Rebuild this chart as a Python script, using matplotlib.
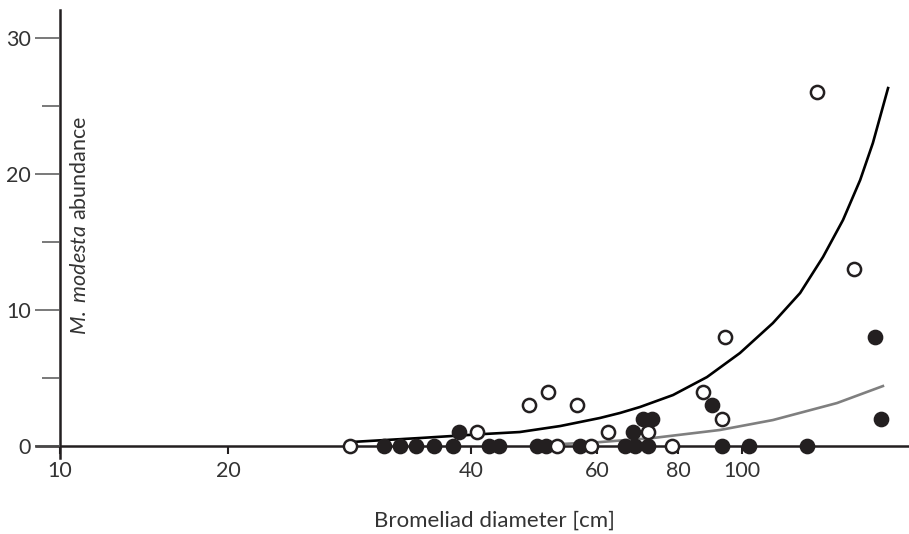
"""M. modesta abundance vs bromeliad diameter, scatter with fitted curves."""

import matplotlib
import numpy as np

matplotlib.use("Agg")
import matplotlib.pyplot as plt

# open circles
OPEN_DIAM = [28.3, 52.8, 58.9, 78.3, 40.8, 48.2, 51.2, 56.2, 62.4, 71.9,
             87.3, 94.2, 93.4, 129.4, 146.9]
OPEN_ABUND = [0, 0, 0, 0, 1, 3, 4, 3, 1, 1,
              4, 8, 2, 26, 13]

# filled circles
FILLED_DIAM = [31.2, 32.7, 34.2, 36.0, 38.0, 42.4, 43.8, 49.5, 50.9, 56.8,
               66.3, 68.7, 71.9, 93.2, 102.4, 125.0,
               38.7, 68.2, 70.6, 72.9, 90.1, 157.9, 161.2]
FILLED_ABUND = [0, 0, 0, 0, 0, 0, 0, 0, 0, 0,
                0, 0, 0, 0, 0, 0,
                1, 1, 2, 2, 3, 8, 2]

# fitted curves
BLACK_DIAM = [28.3, 34.6, 41.6, 46.8, 53.3, 60.6, 65.1, 69.9, 78.6, 88.5,
              99.3, 111.2, 122.1, 132.1, 141.5, 150.1, 156.8, 165.2]
BLACK_ABUND = [0.29, 0.59, 0.88, 1.03, 1.47, 2.06, 2.43, 2.87, 3.75, 5.07,
               6.84, 9.04, 11.25, 13.90, 16.62, 19.56, 22.28, 26.32]
GRAY_DIAM = [49.9, 60.6, 73.2, 92.6, 111.2, 138.6, 162.3]
GRAY_ABUND = [0.07, 0.29, 0.59, 1.18, 1.91, 3.16, 4.41]

X_TICKS = [10, 20, 40, 60, 80, 100]
Y_TICKS = [0, 10, 20, 30]
Y_MINOR = [5, 15, 25]

# the original x axis is not evenly logarithmic: anchor the scale on its ticks
SCALE_LOG = np.log10([1, 10, 20, 40, 60, 80, 100, 1000])
SCALE_POS = np.array([-498, 60, 228, 471, 597, 678, 742, 1412], dtype=float)

INK = "#231f20"


def forward(x):
    x = np.log10(np.clip(np.asarray(x, dtype=float), 1e-3, None))
    return np.interp(x, SCALE_LOG, SCALE_POS)


def inverse(p):
    p = np.asarray(p, dtype=float)
    return 10 ** np.interp(p, SCALE_POS, SCALE_LOG)


plt.rcParams["font.family"] = ["Lato", "DejaVu Sans"]
plt.rcParams["mathtext.fontset"] = "custom"
plt.rcParams["mathtext.it"] = "Lato:italic"
plt.rcParams["mathtext.rm"] = "Lato"

fig = plt.figure(figsize=(9.09, 5.34), dpi=100)
ax = fig.add_axes([36 / 909, 76 / 534, 872 / 909, 448 / 534])

ax.set_xscale("function", functions=(forward, inverse))
ax.set_xlim(inverse(36), inverse(908))
ax.set_ylim(-0.88, 32.06)

ax.plot(BLACK_DIAM, BLACK_ABUND, color="black", lw=1.9, zorder=2,
        solid_joinstyle="round")
ax.plot(GRAY_DIAM, GRAY_ABUND, color="#7f7f7f", lw=1.9, zorder=2,
        solid_joinstyle="round")

ax.scatter(FILLED_DIAM, FILLED_ABUND, s=100, color=INK, edgecolor=INK,
           linewidth=1.3, zorder=3, clip_on=False)
ax.scatter(OPEN_DIAM, OPEN_ABUND, s=90, facecolor="white", edgecolor=INK,
           linewidth=1.8, zorder=4, clip_on=False)

for side in ("top", "right"):
    ax.spines[side].set_visible(False)
ax.spines["left"].set_position(("data", 10))
ax.spines["bottom"].set_position(("data", 0))
for side in ("left", "bottom"):
    ax.spines[side].set_linewidth(1.8)
    ax.spines[side].set_color(INK)
    ax.spines[side].set_zorder(1)

ax.set_xticks(X_TICKS)
ax.set_xticklabels([str(v) for v in X_TICKS])
ax.xaxis.set_minor_locator(matplotlib.ticker.NullLocator())
ax.set_yticks(Y_TICKS)
ax.set_yticks(Y_MINOR, minor=True)

ax.tick_params(axis="x", direction="out", length=6, width=1.5, color=INK,
               pad=5, labelsize=15.5, labelcolor="#333333")
ax.tick_params(axis="y", which="major", direction="out", length=18, width=1.1,
               color="#555555", pad=3, labelsize=15.5, labelcolor="#333333")
ax.tick_params(axis="y", which="minor", direction="out", length=13, width=1.1,
               color="#555555")

ax.text(80 / 909, 1 - 225 / 534, r"$\mathit{M.\ modesta}$ abundance",
        transform=fig.transFigure, rotation=90, ha="center", va="center",
        fontsize=15.5, color="#333333")
fig.text(494 / 909, 1 - 521 / 534, "Bromeliad diameter [cm]",
         ha="center", va="center", fontsize=16, color="#333333")

fig.savefig("out.png", dpi=100)
